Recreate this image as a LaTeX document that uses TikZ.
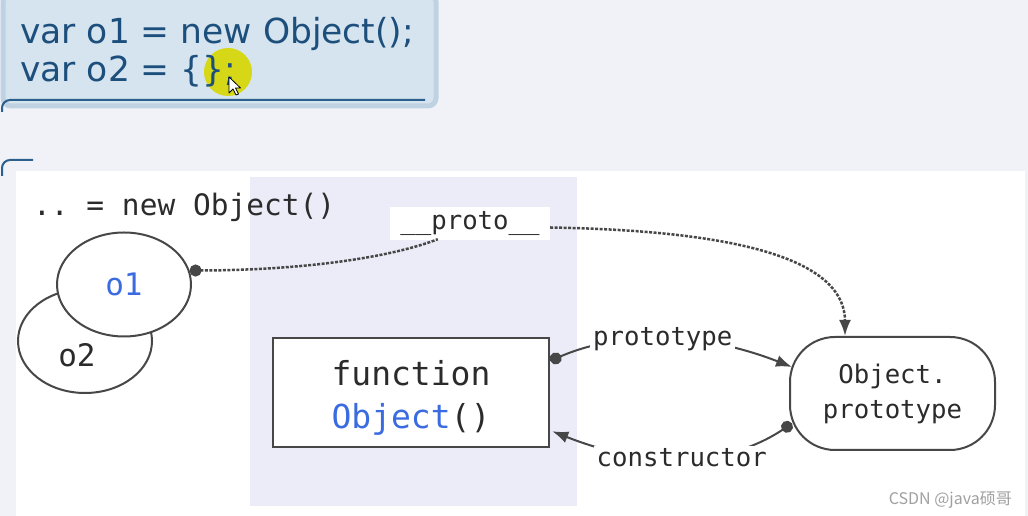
\documentclass[tikz,border=0pt]{standalone}
\usepackage{fontspec}
\setmonofont{DejaVu Sans Mono}
\newfontfamily\codefont{DejaVu Sans}
\newfontfamily\cjkfont{Noto Sans CJK SC}
\usetikzlibrary{shapes.geometric,arrows.meta,calc}
\definecolor{pagebg}{HTML}{F1F2F7}
\definecolor{codebg}{HTML}{D6E4EF}
\definecolor{codeframe}{HTML}{BFD2E2}
\definecolor{codeink}{HTML}{1D4F7D}
\definecolor{darkblue}{HTML}{2B5F8E}
\definecolor{band}{HTML}{ECECF9}
\definecolor{ink}{HTML}{2B2B2B}
\definecolor{shape}{HTML}{474747}
\definecolor{jsblue}{HTML}{3B6BE0}
\definecolor{hilite}{HTML}{D6D600}
\definecolor{wm}{HTML}{A0A0A0}
\tikzset{
  codetext/.style={font=\codefont\fontsize{34.5}{40}\selectfont, text=codeink, inner sep=0pt, anchor=base west},
  monolbl/.style={font=\ttfamily\fontsize{25.7}{35}\selectfont, text=ink},
  bigmono/.style={font=\ttfamily\fontsize{33}{43}\selectfont, text=ink},
  blob/.style={ellipse, draw=shape, line width=2pt, minimum width=134pt, minimum height=104pt, inner sep=0pt, font=\ttfamily\fontsize{31}{36}\selectfont, text=ink},
  fnbox/.style={rectangle, draw=shape, line width=2.5pt, fill=white, minimum width=276pt, minimum height=109pt, inner sep=0pt},
  protobox/.style={rectangle, draw=shape, line width=2pt, fill=white, rounded corners=45pt, minimum width=205pt, minimum height=113pt, align=center, monolbl},
  dotline/.style={draw=shape, line width=2.5pt, dash pattern=on 3pt off 1.5pt},
  conn/.style={draw=shape, line width=2pt},
  dottip/.style={{Circle[length=12pt]}-{Latex[length=16pt,width=12pt]}},
  lbl/.style={fill=white, inner sep=3pt, monolbl}
}
\begin{document}
\begin{tikzpicture}[x=1pt,y=1pt]
\useasboundingbox (0,0) rectangle (1028,516);
\fill[pagebg] (0,0) rectangle (1028,516);
% top code box
\filldraw[fill=codebg, draw=codeframe, line width=5pt, rounded corners=8pt] (3,522) rectangle (436,410);
\draw[darkblue, line width=2pt, rounded corners=8pt] (425,416) -- (2,416) -- (2,404);
\fill[hilite, opacity=0.9] (228,444) circle (24);
\node[codetext] (l1) at (20,472) {var o1 = new Object();};
\node[codetext] (l2) at (20,434) {var o2 = \{\};};
\filldraw[fill=white, draw=black, line width=0.8pt, line join=round]
  (229,439) -- (229,423) -- (233,427) -- (236,421) -- (238.5,422) -- (235.5,428) -- (240.5,428) -- cycle;
% second frame corner
\draw[darkblue, line width=2pt, rounded corners=8pt] (33,356) -- (2,356) -- (2,340);
% white diagram area
\fill[white] (16,0) rectangle (1025,345);
\fill[band] (250,10) rectangle (577,339);
\node[monolbl, font=\ttfamily\fontsize{29.5}{35}\selectfont, anchor=base west, inner sep=0pt] (newobj) at (33,300) {.. = new Object()};
% objects
\node[blob] (o2) at (85,175) {};
\node[blob, fill=white, text=jsblue] (o1) at (124,231.5) {o1};
\node[monolbl, font=\ttfamily\fontsize{31}{36}\selectfont, inner sep=0pt] (o2t) at (77,161) {o2};
\node[fnbox, label={[bigmono, align=center, yshift=-5pt]center:function\\\textcolor{jsblue}{Object}()}] (fn) at (411,123.5) {};
\node[protobox] (op) at (892.5,122.5) {Object.\\prototype};
\node[monolbl, fill=white, minimum width=160pt, minimum height=33pt] (proto) at (470,292.5) {\_\_proto\_\_};
% __proto__ link
\draw[dotline, {Circle[length=12pt]}-] (o1.12) .. controls (320,246) and (400,262) .. ($(proto.south west)+(48,1)$);
\draw[dotline, -{Latex[length=16pt,width=12pt]}] ($(proto.east)+(0,-4)$) .. controls (760,285) and (845,250) .. ($(op.north)+(-47.5,0)$);
% prototype / constructor
\draw[conn, dottip] ($(fn.north east)+(0,-24)$) .. controls (620,185) and (700,185) .. node[lbl, pos=0.5] (ptl) {prototype} ($(op.west)+(3,26.5)$);
\draw[conn, dottip] ($(op.west)+(3,-30)$) .. controls (725,48) and (645,48) .. node[lbl, pos=0.5] (ctl) {constructor} ($(fn.south east)+(2,17)$);
% watermark
\node[font=\cjkfont\fontsize{16}{20}\selectfont, text=wm, anchor=base east, inner sep=0pt] (wmk) at (1012,11) {CSDN @java硕哥};
\end{tikzpicture}
\end{document}
